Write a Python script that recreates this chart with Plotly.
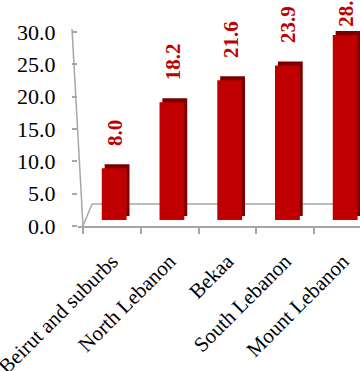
import plotly.graph_objects as go

categories = ["Beirut and suburbs", "North Lebanon", "Bekaa", "South Lebanon", "Mount Lebanon"]
values = [8.0, 18.2, 21.6, 23.9, 28.6]
value_labels = ["8.0", "18.2", "21.6", "23.9", "28.6"]
y_tick_values = [0, 5, 10, 15, 20, 25, 30]
y_tick_labels = ["0.0", "5.0", "10.0", "15.0", "20.0", "25.0", "30.0"]

W, H = 360, 371
AX_BOTTOM = 226          # pixel row of the 0.0 tick
SCALE = 194 / 30         # pixels per unit
TOP = AX_BOTTOM / SCALE  # data value at figure top
CAT = 57.75              # pixels per category
X_LEFT = 78              # plot area left edge (px)
FIRST_BOUND = 83         # first category boundary (px)
GRAY = "#A6A6A6"
RED = "#C00000"
DARK = "#7A0000"
FONT = "Times New Roman, Liberation Serif, serif"

def rng(zero_px):
    # axis range whose zero sits at pixel row zero_px
    lo = -(AX_BOTTOM - zero_px) / SCALE
    return [lo, lo + TOP]

x0 = -0.5 - (FIRST_BOUND - X_LEFT) / CAT
x_range = [x0, x0 + (W - X_LEFT) / CAT]

fig = go.Figure()
# invisible trace that keeps the main (labelled) value axis in use
fig.add_trace(go.Scatter(x=categories, y=values, mode="markers", marker=dict(opacity=0),
                         hoverinfo="skip", showlegend=False))
# back/side face (gives the 3D look)
fig.add_trace(go.Bar(x=categories, y=values, yaxis="y2", width=0.43, offset=-0.125,
                     marker=dict(color=DARK, line_width=0), hoverinfo="skip", showlegend=False))
# front face
fig.add_trace(go.Bar(x=categories, y=values, yaxis="y3", width=0.43, offset=-0.175,
                     marker=dict(color=RED, line_width=0), showlegend=False))

for i, (v, t) in enumerate(zip(values, value_labels)):
    fig.add_annotation(x=i, y=min(v + 2.5, 29.0), xref="x", yref="y2", text=t,
                       textangle=-90, showarrow=False, yanchor="bottom", xanchor="center",
                       xshift=3, font=dict(family=FONT, size=21, color=RED, weight="bold"))

def px(x):
    return (x - X_LEFT) / (W - X_LEFT)

def py(y):
    return (AX_BOTTOM - y) / AX_BOTTOM

line = dict(color=GRAY, width=1.5)
fig.add_shape(type="line", xref="paper", yref="paper", x0=px(72), y0=py(29), x1=px(83), y1=py(226), line=line, layer="below")
fig.add_shape(type="line", xref="paper", yref="paper", x0=px(83), y0=py(226), x1=px(92), y1=py(204), line=line, layer="below")
fig.add_shape(type="line", xref="paper", yref="paper", x0=px(92), y0=py(204), x1=px(362), y1=py(204), line=line, layer="below")

fig.update_layout(
    width=W, height=H,
    margin=dict(l=X_LEFT, r=0, t=0, b=H - AX_BOTTOM, autoexpand=False),
    plot_bgcolor="rgba(0,0,0,0)", paper_bgcolor="white",
    barmode="overlay",
    xaxis=dict(type="category", range=x_range, automargin=False,
               showline=True, linecolor=GRAY, linewidth=1.5, ticks="outside", tickson="boundaries",
               ticklen=6, tickcolor=GRAY, tickwidth=1.5, tickangle=-45, showgrid=False,
               tickfont=dict(family=FONT, size=21, color="black"), ticklabelstandoff=13),
    yaxis=dict(range=[0, TOP], tickvals=y_tick_values, ticktext=y_tick_labels, automargin=False,
               ticks="outside", ticklen=5, tickcolor=GRAY, tickwidth=1.5, showline=False,
               showgrid=False, zeroline=False, ticklabelstandoff=12, ticklabeloverflow="allow",
               tickfont=dict(family=FONT, size=22, color="black")),
    yaxis2=dict(range=rng(216), overlaying="y", visible=False),
    yaxis3=dict(range=rng(220), overlaying="y", visible=False),
)

fig.write_html("out.html")
